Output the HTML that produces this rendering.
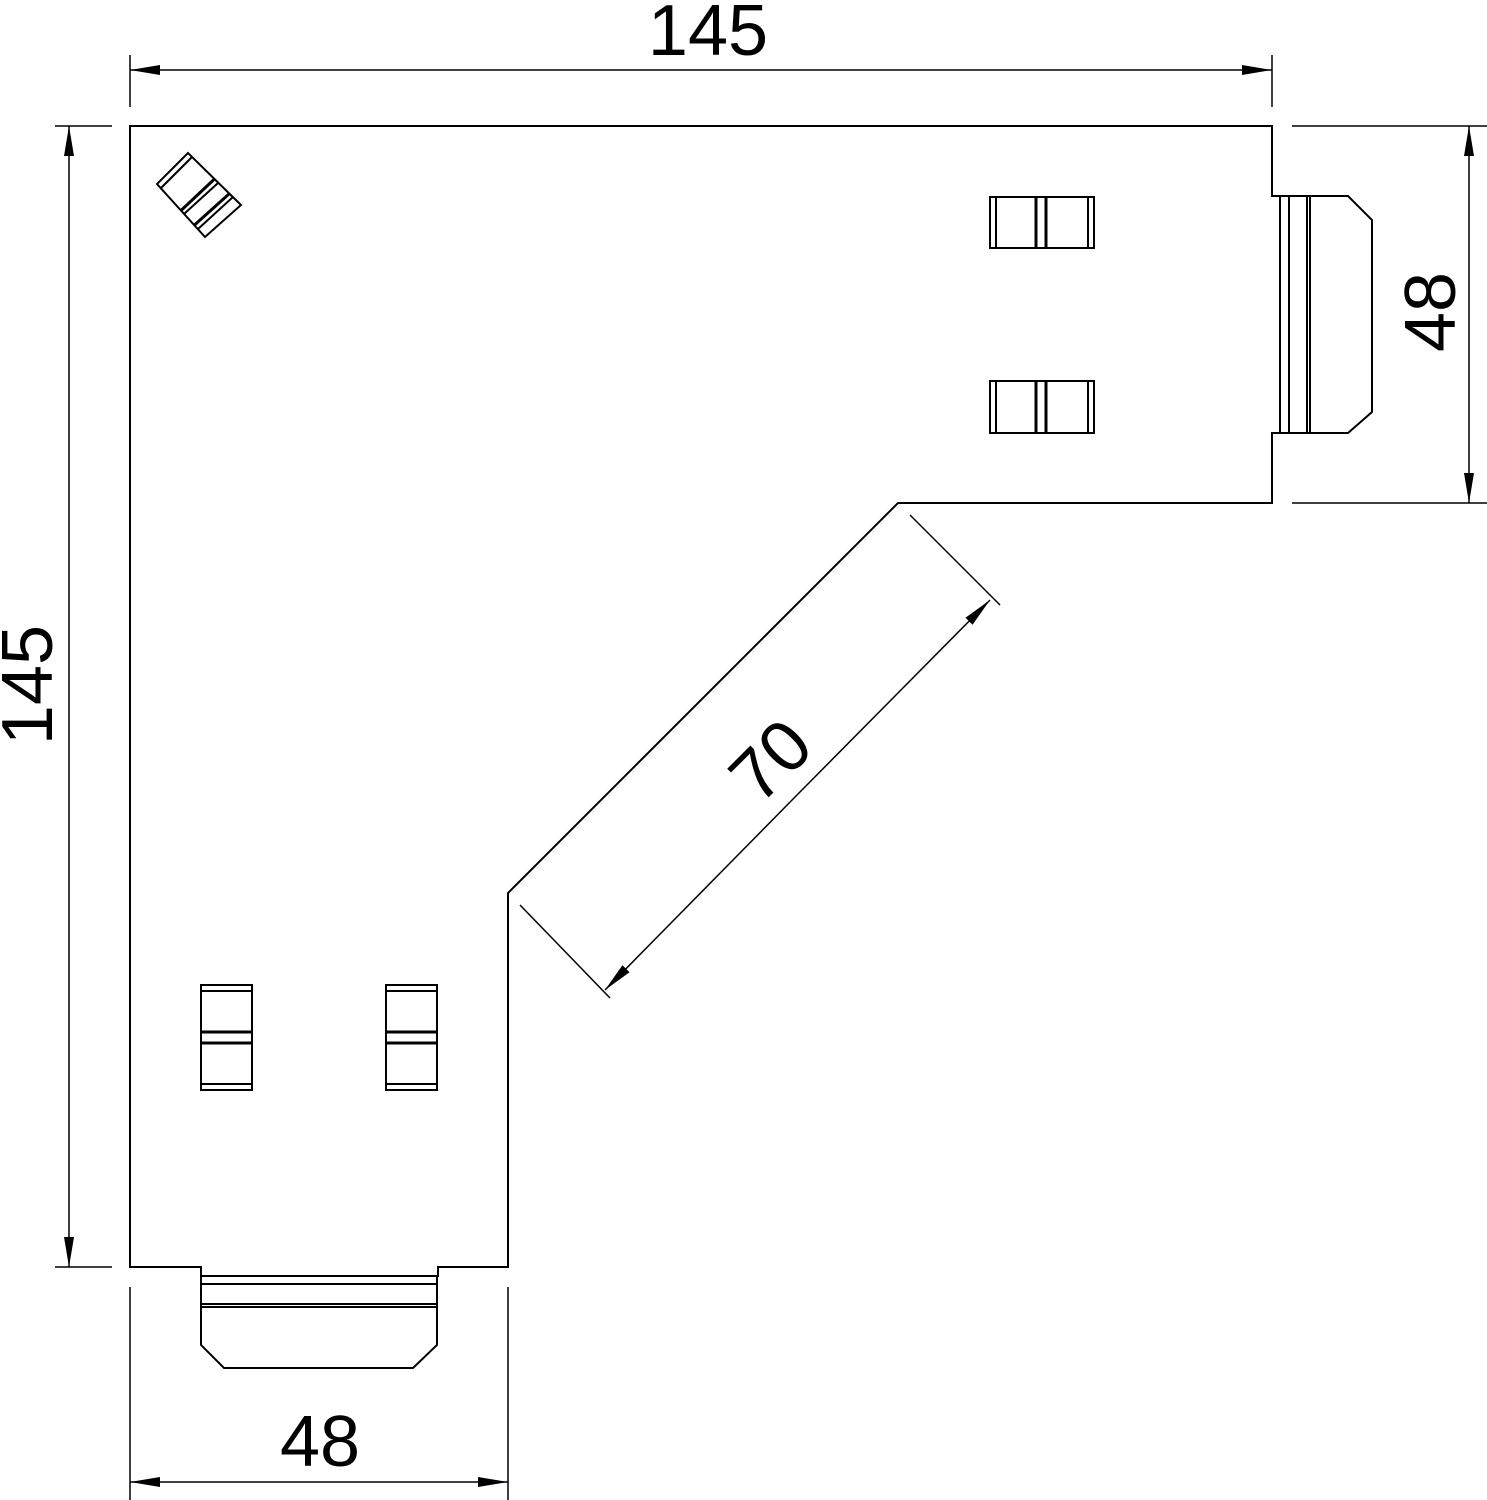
<!DOCTYPE html>
<html><head><style>html,body{margin:0;padding:0;background:#fff}svg{display:block}</style></head><body>
<svg width="1487" height="1500" viewBox="0 0 1487 1500" xmlns="http://www.w3.org/2000/svg">
<defs>
<marker id="a" viewBox="0 0 30 10" refX="30" refY="5" markerWidth="30" markerHeight="10" markerUnits="userSpaceOnUse" orient="auto"><path d="M0,0 L30,5 L0,10 Z" fill="#000"/></marker>
</defs>
<g fill="none" stroke="#000" stroke-width="2">
<path d="M130,126 H1272 V196 H1280 V433 H1272 V503 H898 L508,893 V1267 H438 V1276 H201 V1267 H130 Z" fill="#fff"/>
<path d="M1280,196 H1348 L1372,220 V412 L1348,433 H1280"/>
<line x1="1289" y1="196" x2="1289" y2="433"/>
<line x1="1307" y1="196" x2="1307" y2="433"/>
<line x1="1310" y1="196" x2="1310" y2="433"/>
<path d="M201,1276 V1345 L224,1368 H413 L437,1345 V1276"/>
<line x1="201" y1="1284" x2="437" y2="1284"/>
<line x1="201" y1="1304" x2="437" y2="1304"/>
<line x1="201" y1="1307" x2="437" y2="1307"/>
<rect x="990" y="197" width="104" height="51"/><line x1="996" y1="197" x2="996" y2="248"/><line x1="1036" y1="197" x2="1036" y2="248" stroke-width="3"/><line x1="1046" y1="197" x2="1046" y2="248" stroke-width="3"/><line x1="1088" y1="197" x2="1088" y2="248"/>
<rect x="990" y="381" width="104" height="52"/><line x1="996" y1="381" x2="996" y2="433"/><line x1="1036" y1="381" x2="1036" y2="433" stroke-width="3"/><line x1="1046" y1="381" x2="1046" y2="433" stroke-width="3"/><line x1="1088" y1="381" x2="1088" y2="433"/>
<rect x="201" y="985" width="51" height="105"/><line x1="201" y1="991" x2="252" y2="991"/><line x1="201" y1="1032" x2="252" y2="1032" stroke-width="3"/><line x1="201" y1="1043" x2="252" y2="1043" stroke-width="3"/><line x1="201" y1="1084" x2="252" y2="1084"/>
<rect x="386" y="985" width="51" height="105"/><line x1="386" y1="991" x2="437" y2="991"/><line x1="386" y1="1032" x2="437" y2="1032" stroke-width="3"/><line x1="386" y1="1043" x2="437" y2="1043" stroke-width="3"/><line x1="386" y1="1084" x2="437" y2="1084"/>
<polygon points="188,153 157,184 205,237 241,205"/>
<line x1="192" y1="157" x2="161" y2="188"/>
<line x1="214.5" y1="179" x2="181" y2="210.5" stroke-width="3"/>
<line x1="218" y1="183" x2="184" y2="214"/>
<line x1="229" y1="194" x2="194.5" y2="225" stroke-width="3"/>
<line x1="233" y1="197" x2="198" y2="229"/>
<g stroke-width="1.5">
<line x1="130" y1="55" x2="130" y2="107"/><line x1="1272" y1="55" x2="1272" y2="107"/>
<line x1="55" y1="126" x2="112" y2="126"/><line x1="55" y1="1267" x2="112" y2="1267"/>
<line x1="1292" y1="126" x2="1487" y2="126"/><line x1="1292" y1="503" x2="1487" y2="503"/>
<line x1="130" y1="1287" x2="130" y2="1500"/><line x1="508" y1="1287" x2="508" y2="1500"/>
<line x1="520" y1="905" x2="610" y2="998"/><line x1="910" y1="515" x2="1000" y2="605"/>
<line x1="700" y1="70" x2="130" y2="70" marker-end="url(#a)"/><line x1="700" y1="70" x2="1272" y2="70" marker-end="url(#a)"/>
<line x1="69" y1="700" x2="69" y2="126" marker-end="url(#a)"/><line x1="69" y1="700" x2="69" y2="1267" marker-end="url(#a)"/>
<line x1="1469" y1="310" x2="1469" y2="126" marker-end="url(#a)"/><line x1="1469" y1="310" x2="1469" y2="503" marker-end="url(#a)"/>
<line x1="320" y1="1482" x2="130" y2="1482" marker-end="url(#a)"/><line x1="320" y1="1482" x2="508" y2="1482" marker-end="url(#a)"/>
<line x1="797" y1="795" x2="990" y2="600" marker-end="url(#a)"/><line x1="797" y1="795" x2="605" y2="990" marker-end="url(#a)"/>
</g>
</g>
<g font-family="Liberation Sans, sans-serif" font-size="72" fill="#000" text-anchor="middle">
<text x="708" y="55">145</text>
<text x="320" y="1466">48</text>
<text transform="translate(52,685) rotate(-90)">145</text>
<text transform="translate(1455,312) rotate(-90)">48</text>
<text transform="translate(788,778) rotate(-45)">70</text>
</g>
</svg>
</body></html>
